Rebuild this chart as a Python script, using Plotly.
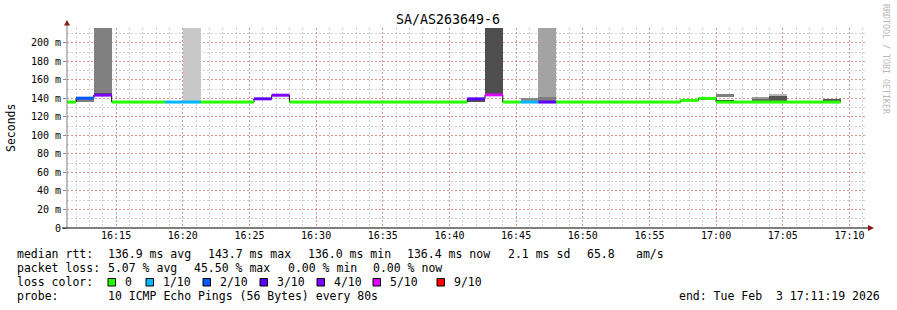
import plotly.graph_objects as go
from datetime import datetime, timedelta

# ---------------- data ----------------
TITLE = "SA/AS263649-6"
first_slot_start = datetime(2026, 2, 3, 16, 10, 40)   # 80 s RRD steps
step_seconds = 80
view_start = datetime(2026, 2, 3, 16, 11, 19)
view_end = datetime(2026, 2, 3, 17, 11, 19)

# median rtt per 80 s slot (ms)
median_ms = [136.0, 140.2, 143.5, 136.0, 136.0, 136.0, 136.0, 136.0, 136.0, 136.0,
             136.0, 139.5, 143.4, 136.0, 136.0, 136.0, 136.0, 136.0, 136.0, 136.0,
             136.0, 136.0, 136.0, 139.5, 143.8, 136.0, 136.0, 136.0, 136.0, 136.0,
             136.0, 136.0, 136.0, 136.0, 136.0, 137.8, 140.0, 136.0, 136.0, 136.0,
             136.0, 136.0, 136.0, 136.0]
# lost pings (out of 10) per slot
loss_tenths = [0, 2, 4, 0, 0, 0, 1, 1, 0, 0,
               0, 3, 4, 0, 0, 0, 0, 0, 0, 0,
               0, 0, 0, 3, 5, 0, 1, 3, 0, 0,
               0, 0, 0, 0, 0, 0, 0, 0, 0, 0,
               0, 0, 0, 0]

# smoke bands: slot index, low ms, high ms, grey shade
smoke_slot = [1, 2, 2, 7, 23, 24, 26, 27, 27, 36, 37, 37, 39, 39, 40, 40, 43]
smoke_low = [136.0, 144.5, 146.0, 137.0, 136.0, 145.0, 137.5, 137.5, 142.0, 139.3,
             136.0, 141.5, 137.6, 140.0, 137.6, 142.2, 136.5]
smoke_high = [140.0, 146.0, 260.0, 260.0, 139.0, 260.0, 140.0, 142.0, 260.0, 140.3,
              138.4, 144.3, 140.0, 140.8, 142.2, 144.5, 139.6]
smoke_shade = ['#7c7c7c', '#555555', '#808080', '#c8c8c8', '#505050', '#4e4e4e',
               '#888888', '#7e7e7e', '#a3a3a3', '#8a8a8a', '#1e1e1e', '#808080',
               '#666666', '#9a9a9a', '#555555', '#b5b5b5', '#555555']

loss_levels = [0, 1, 2, 3, 4, 5, 9]
loss_labels = ['0', '1/10', '2/10', '3/10', '4/10', '5/10', '9/10']
loss_colors = ['#26ff00', '#00b8ff', '#0059ff', '#5e00ff', '#7e00ff', '#dd00ff', '#ff0000']

y_ticks = [0, 20, 40, 60, 80, 100, 120, 140, 160, 180, 200]
y_ticktext = ['0'] + [f'{v} m' for v in y_ticks[1:]]
x_tick_labels = ['16:15', '16:20', '16:25', '16:30', '16:35', '16:40', '16:45',
                 '16:50', '16:55', '17:00', '17:05', '17:10']

stats_rtt = ['136.9 ms avg', '143.7 ms max', '136.0 ms min', '136.4 ms now',
             '2.1 ms sd', '65.8', 'am/s']
stats_loss = ['5.07 % avg', '45.50 % max', '0.00 % min', '0.00 % now']
probe_text = '10 ICMP Echo Pings (56 Bytes) every 80s'
end_text = 'end: Tue Feb  3 17:11:19 2026'

# ---------------- geometry helpers ----------------
W, H = 897, 310
PL, PR, PT, PB = 67, 867, 28, 228
MONO = 'DejaVu Sans Mono'


def px(x):
    return (x - PL) / (PR - PL)


def py(y):
    return (PB - y) / (PB - PT)


def nb(s):
    return s.replace(' ', '\u00a0')


step = timedelta(seconds=step_seconds)
starts = [first_slot_start + i * step for i in range(len(median_ms))]
ends = [s + step for s in starts]

fig = go.Figure()

# smoke
fig.add_trace(go.Bar(
    x=[starts[i] + step / 2 for i in smoke_slot],
    y=[h - l for l, h in zip(smoke_low, smoke_high)],
    base=smoke_low,
    width=[step_seconds * 1000] * len(smoke_slot),
    marker=dict(color=smoke_shade, line=dict(width=0)),
    hoverinfo='skip', showlegend=False,
))

# thin black step line under the coloured median
fig.add_trace(go.Scatter(
    x=starts + [ends[-1]], y=median_ms + [median_ms[-1]],
    mode='lines', line=dict(color='black', width=1, shape='hv'),
    hoverinfo='skip', showlegend=False,
))

# coloured median segments by loss
for lvl, col in zip(loss_levels, loss_colors):
    xs, ys = [], []
    for s, e, m, l in zip(starts, ends, median_ms, loss_tenths):
        if l == lvl:
            xs += [s, e, None]
            ys += [m, m, None]
    if xs:
        fig.add_trace(go.Scatter(x=xs, y=ys, mode='lines',
                                 line=dict(color=col, width=3),
                                 hoverinfo='skip', showlegend=False))

x_tickvals = [datetime(2026, 2, 3, int(t[:2]), int(t[3:])) for t in x_tick_labels]

MAJOR = 'rgba(255,0,0,0.30)'
MINOR = 'rgba(140,140,140,0.40)'
DASH = '2px,2px'

fig.update_xaxes(
    type='date', range=[view_start, view_end],
    tickvals=x_tickvals, ticktext=x_tick_labels,
    tickfont=dict(family=MONO, size=10, color='black'),
    showgrid=True, gridcolor=MAJOR, griddash=DASH, gridwidth=1,
    minor=dict(dtick=60000, tick0=datetime(2026, 2, 3, 16, 0), showgrid=True,
               gridcolor=MINOR, griddash=DASH, gridwidth=1),
    ticks='', showline=False, zeroline=False, fixedrange=True,
)
fig.update_yaxes(
    range=[0, 216],
    tickvals=y_ticks, ticktext=y_ticktext,
    tickfont=dict(family=MONO, size=10, color='black'),
    showgrid=True, gridcolor=MAJOR, griddash=DASH, gridwidth=1,
    minor=dict(dtick=10, tick0=0, showgrid=True,
               gridcolor=MINOR, griddash=DASH, gridwidth=1),
    ticks='outside', ticklen=3, tickcolor='#888888',
    showline=False, zeroline=False, fixedrange=True,
)

shapes = [
    # y axis line
    dict(type='line', xref='paper', yref='paper', x0=0, x1=0, y0=0, y1=py(24),
         line=dict(color='#808080', width=1)),
    # x axis line
    dict(type='line', xref='paper', yref='paper', x0=px(62), x1=px(869), y0=0, y1=0,
         line=dict(color='black', width=1)),
    # arrows
    dict(type='path', xref='paper', yref='paper',
         path=f'M {px(64)} {py(25.5)} L {px(70)} {py(25.5)} L {px(67)} {py(20)} Z',
         fillcolor='#8b1a1a', line=dict(width=0)),
    dict(type='path', xref='paper', yref='paper',
         path=f'M {px(868)} {py(225)} L {px(868)} {py(231)} L {px(874)} {py(228)} Z',
         fillcolor='#8b1a1a', line=dict(width=0)),
]

annotations = [
    dict(text=TITLE, x=px(448), y=py(19), xref='paper', yref='paper',
         xanchor='center', yanchor='middle', showarrow=False,
         font=dict(family=MONO, size=13.3, color='black')),
    dict(text='Seconds', x=px(11), y=py(128), xref='paper', yref='paper',
         xanchor='center', yanchor='middle', showarrow=False, textangle=-90,
         font=dict(family=MONO, size=11.5, color='black')),
    dict(text=nb('RRDTOOL / TOBI OETIKER'), x=px(886), y=py(59), xref='paper', yref='paper',
         xanchor='center', yanchor='middle', showarrow=False, textangle=90,
         font=dict(family=MONO, size=8.3, color='#b8b8b8')),
]


def txt(s, x, y, anchor='left'):
    annotations.append(dict(text=nb(s), x=px(x - 1 if anchor == 'left' else x + 1), y=py(y),
                            xref='paper', yref='paper', xanchor=anchor, yanchor='middle',
                            showarrow=False, font=dict(family=MONO, size=11.5, color='black')))


L1, L2, L3, L4 = 254.3, 268.3, 282.3, 296.3
txt('median rtt:', 16, L1)
for s, x in zip(stats_rtt, [107.3, 207.3, 306.7, 405.7, 507.3, 586, 635.3]):
    txt(s, x, L1)
txt('packet loss:', 16, L2)
for s, x in zip(stats_loss, [107.3, 192.7, 286.7, 372.3]):
    txt(s, x, L2)
txt('loss color:', 16, L3)
box_x = [108, 146, 203, 260, 317, 373, 437]
for bx, lab, col in zip(box_x, loss_labels, loss_colors):
    shapes.append(dict(type='rect', xref='paper', yref='paper',
                       x0=px(bx), x1=px(bx + 7.5), y0=py(286), y1=py(278.5),
                       fillcolor=col, line=dict(color='black', width=1)))
    txt(lab, bx + 16, L3)
txt('probe:', 16, L4)
txt(probe_text, 107.3, L4)
txt(end_text, 880.5, L4, anchor='right')

fig.update_layout(
    width=W, height=H, autosize=False,
    margin=dict(l=PL, r=W - PR, t=PT, b=H - PB, pad=0),
    paper_bgcolor='white', plot_bgcolor='white',
    barmode='overlay', bargap=0, showlegend=False, hovermode=False,
    shapes=shapes, annotations=annotations,
)

fig.write_html('out.html')
